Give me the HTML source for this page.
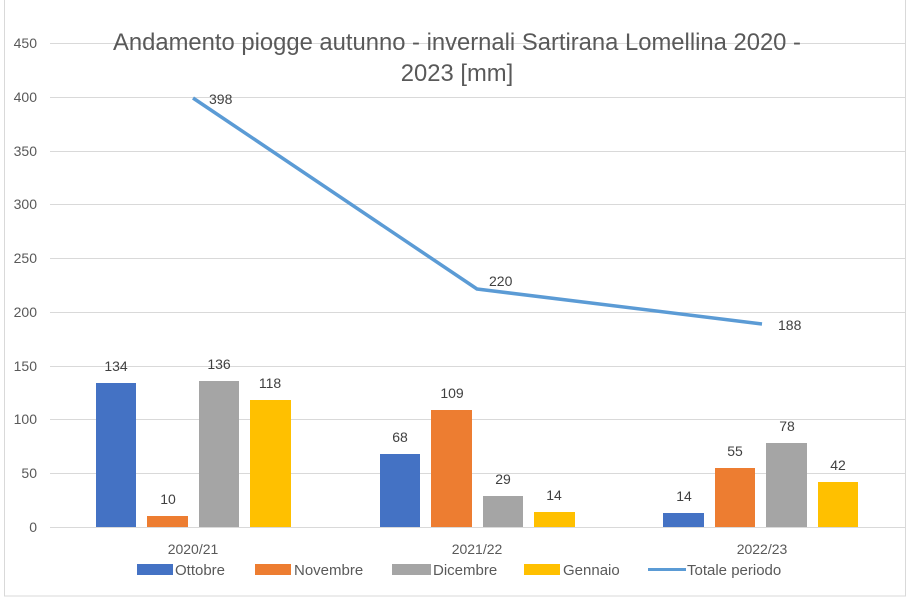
<!DOCTYPE html>
<html><head><meta charset="utf-8"><style>
body{margin:0;background:#fff;}
svg text{font-family:"Liberation Sans",sans-serif;}
</style></head><body>
<svg width="911" height="602" viewBox="0 0 911 602" xmlns="http://www.w3.org/2000/svg">
<rect x="0" y="0" width="911" height="602" fill="#fff"/>
<rect x="4.5" y="-2" width="901" height="598" fill="none" stroke="#d9d9d9"/>
<g stroke="#d9d9d9" stroke-width="1">
<line x1="50" x2="905" y1="43.5" y2="43.5"/>
<line x1="50" x2="905" y1="97.5" y2="97.5"/>
<line x1="50" x2="905" y1="151.5" y2="151.5"/>
<line x1="50" x2="905" y1="204.5" y2="204.5"/>
<line x1="50" x2="905" y1="258.5" y2="258.5"/>
<line x1="50" x2="905" y1="312.5" y2="312.5"/>
<line x1="50" x2="905" y1="366.5" y2="366.5"/>
<line x1="50" x2="905" y1="419.5" y2="419.5"/>
<line x1="50" x2="905" y1="473.5" y2="473.5"/>
<line x1="50" x2="905" y1="527.5" y2="527.5"/>
</g>
<g font-size="14" fill="#595959" text-anchor="end">
<text x="37" y="48">450</text><text x="37" y="102">400</text><text x="37" y="156">350</text>
<text x="37" y="209">300</text><text x="37" y="263">250</text><text x="37" y="317">200</text>
<text x="37" y="371">150</text><text x="37" y="424">100</text><text x="37" y="478">50</text>
<text x="37" y="532">0</text>
</g>
<text x="457" y="50" font-size="23.8" fill="#595959" text-anchor="middle">Andamento piogge autunno - invernali Sartirana Lomellina 2020 -</text>
<text x="457" y="81" font-size="23.8" fill="#595959" text-anchor="middle">2023 [mm]</text>
<g>
<rect x="96" y="383" width="40" height="144" fill="#4472c4"/>
<rect x="147" y="516" width="41" height="11" fill="#ed7d31"/>
<rect x="199" y="381" width="40" height="146" fill="#a5a5a5"/>
<rect x="250" y="400" width="41" height="127" fill="#ffc000"/>
<rect x="380" y="454" width="40" height="73" fill="#4472c4"/>
<rect x="431" y="410" width="41" height="117" fill="#ed7d31"/>
<rect x="483" y="496" width="40" height="31" fill="#a5a5a5"/>
<rect x="534" y="512" width="41" height="15" fill="#ffc000"/>
<rect x="663" y="513" width="41" height="14" fill="#4472c4"/>
<rect x="715" y="468" width="40" height="59" fill="#ed7d31"/>
<rect x="766" y="443" width="41" height="84" fill="#a5a5a5"/>
<rect x="818" y="482" width="40" height="45" fill="#ffc000"/>
</g>
<g font-size="14" fill="#404040" text-anchor="middle">
<text x="116" y="371">134</text><text x="168" y="504">10</text><text x="219" y="369">136</text><text x="270" y="388">118</text>
<text x="400" y="442">68</text><text x="452" y="398">109</text><text x="503" y="484">29</text><text x="554" y="500">14</text>
<text x="684" y="501">14</text><text x="735" y="456">55</text><text x="787" y="431">78</text><text x="838" y="470">42</text>
</g>
<polyline points="193,98 477,289 762,324" fill="none" stroke="#5b9bd5" stroke-width="3.5" stroke-linejoin="round"/>
<g font-size="14" fill="#404040">
<text x="209" y="104">398</text><text x="489" y="286">220</text><text x="778" y="330">188</text>
</g>
<g font-size="14" fill="#595959" text-anchor="middle">
<text x="193" y="554">2020/21</text><text x="477" y="554">2021/22</text><text x="762" y="554">2022/23</text>
</g>
<g font-size="15" fill="#595959">
<rect x="137" y="564" width="36" height="11" fill="#4472c4"/><text x="175" y="575">Ottobre</text>
<rect x="255" y="564" width="36" height="11" fill="#ed7d31"/><text x="294" y="575">Novembre</text>
<rect x="392" y="564" width="39" height="11" fill="#a5a5a5"/><text x="433" y="575">Dicembre</text>
<rect x="524" y="564" width="36" height="11" fill="#ffc000"/><text x="563" y="575">Gennaio</text>
<line x1="648" x2="686" y1="569.5" y2="569.5" stroke="#5b9bd5" stroke-width="3"/><text x="687" y="575">Totale periodo</text>
</g>
</svg>
</body></html>
